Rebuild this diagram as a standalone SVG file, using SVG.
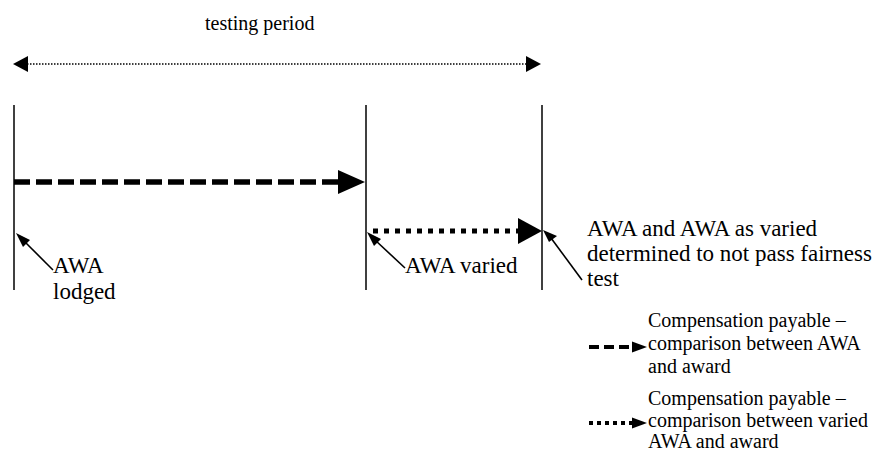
<svg xmlns="http://www.w3.org/2000/svg" width="885" height="452" viewBox="0 0 885 452">
<style>
text{font-family:"Liberation Serif","Times New Roman",Times,"DejaVu Serif","Noto Serif",serif;fill:#000}
.big{font-size:23px}
.sm{font-size:20px}
.vl{stroke:#000;stroke-width:1.5;fill:none}
.ptr{stroke:#000;stroke-width:1.6;fill:none}
.hd{fill:#000;stroke:none}
</style>
<rect width="885" height="452" fill="#fff"/>
<g id="title"><text class="sm" x="205" y="30">testing period</text></g>
<g id="connectors">
  <line x1="27" y1="64" x2="527" y2="64" stroke="#000" stroke-width="1.5" stroke-dasharray="1.5 1.5"/>
  <polygon class="hd" points="13,64 28,56 28,72"/>
  <polygon class="hd" points="541,64 526,56 526,72"/>
  <line x1="14" y1="182" x2="340" y2="182" stroke="#000" stroke-width="5.5" stroke-dasharray="16 6"/>
  <polygon class="hd" points="365,182 338,170 338,194"/>
  <line x1="373" y1="231" x2="520" y2="231" stroke="#000" stroke-width="5" stroke-dasharray="5 6"/>
  <polygon class="hd" points="542,231 518,218 518,244"/>
  <line class="ptr" x1="53" y1="270" x2="24" y2="241"/>
  <polygon class="hd" points="16,233 30,240 23,247"/>
  <line class="ptr" x1="405" y1="268" x2="375" y2="240"/>
  <polygon class="hd" points="367,232 381,239 374,246"/>
  <line class="ptr" x1="582" y1="280" x2="551" y2="238"/>
  <polygon class="hd" points="543,230 557,236 549,242"/>
  <line x1="589" y1="347" x2="634" y2="347" stroke="#000" stroke-width="4" stroke-dasharray="10 5"/>
  <polygon class="hd" points="647,347 632,341.5 632,352.5"/>
  <line x1="589" y1="423" x2="634" y2="423" stroke="#000" stroke-width="4" stroke-dasharray="4 4"/>
  <polygon class="hd" points="647,423 632,417.5 632,428.5"/>
</g>
<g id="lodged">
  <line class="vl" x1="14" y1="105" x2="14" y2="290"/>
  <text class="big" x="53" y="273">AWA</text>
  <text class="big" x="53" y="299">lodged</text>
</g>
<g id="varied">
  <line class="vl" x1="366" y1="105" x2="366" y2="290"/>
  <text class="big" x="405" y="273">AWA varied</text>
</g>
<g id="determined">
  <line class="vl" x1="542" y1="105" x2="542" y2="290"/>
  <text class="big" x="587" y="236">AWA and AWA as varied</text>
  <text class="big" x="587" y="261">determined to not pass fairness</text>
  <text class="big" x="587" y="286">test</text>
</g>
<g id="legend1">
  <text class="sm" x="648" y="327">Compensation payable –</text>
  <text class="sm" x="648" y="350">comparison between AWA</text>
  <text class="sm" x="648" y="373">and award</text>
</g>
<g id="legend2">
  <text class="sm" x="648" y="405">Compensation payable –</text>
  <text class="sm" x="648" y="427">comparison between varied</text>
  <text class="sm" x="648" y="448">AWA and award</text>
</g>
</svg>
